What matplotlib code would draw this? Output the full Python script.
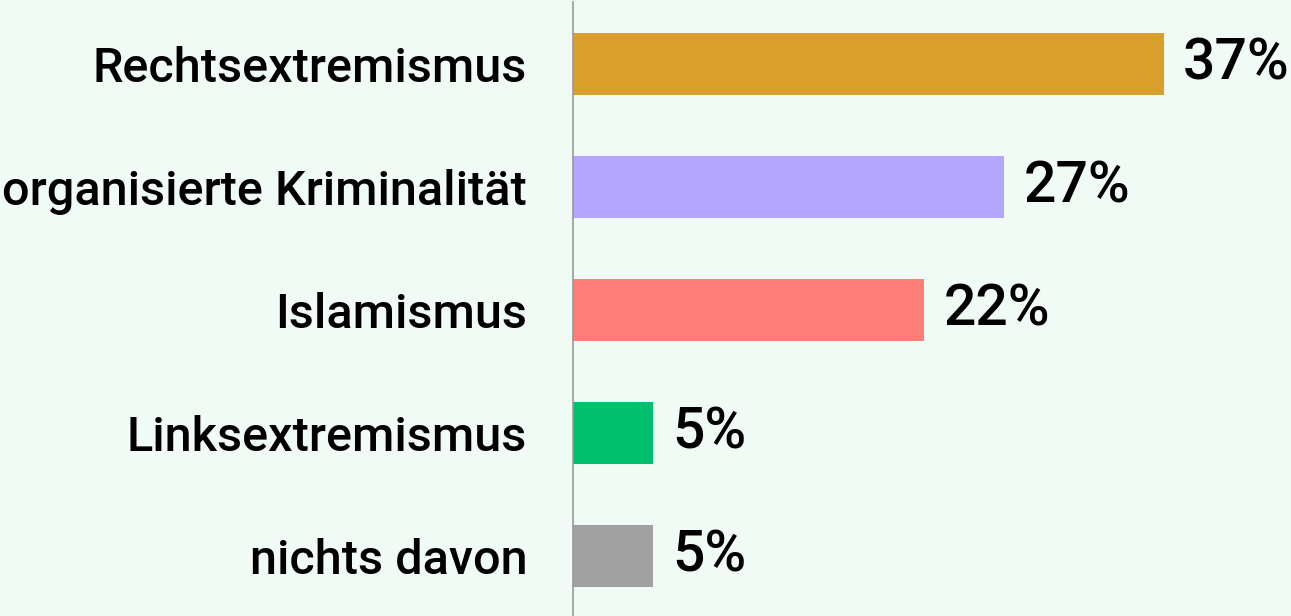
import matplotlib
matplotlib.use("Agg")
import matplotlib.pyplot as plt

categories = ["Rechtsextremismus", "organisierte Kriminalität", "Islamismus",
              "Linksextremismus", "nichts davon"]
values = [37, 27, 22, 5, 5]
colors = ["#D99F2B", "#B4A5FF", "#FF7F78", "#00BF6F", "#A0A0A0"]
bg = "#F1FBF5"

plt.rcParams['font.family'] = ['Roboto', 'DejaVu Sans']

W, H = 1291, 616
fig = plt.figure(figsize=(W / 100, H / 100), dpi=100, facecolor=bg)
ax = fig.add_axes([573 / W, 0, (W - 573) / W, 1 - 2 / H])
ax.set_facecolor(bg)

y = list(range(len(categories)))
ax.barh(y, values, height=0.5, color=colors)
ax.set_xlim(0, 44.95)
ax.set_ylim(4.488, -0.504)

for yi, v in zip(y, values):
    ax.text(v + 1.2, yi, f"{v}%", va="center", ha="left", fontsize=41,
            fontweight="medium", color="#000000")

ax.set_yticks(y)
ax.set_yticklabels(categories, fontsize=35, fontweight="medium")
ax.tick_params(axis="y", length=0, pad=33)
ax.set_xticks([])
for s in ["top", "right", "bottom"]:
    ax.spines[s].set_visible(False)
ax.spines["left"].set_color("#999999")
ax.spines["left"].set_linewidth(1.2)

fig.savefig("out.png", dpi=100, facecolor=bg)
